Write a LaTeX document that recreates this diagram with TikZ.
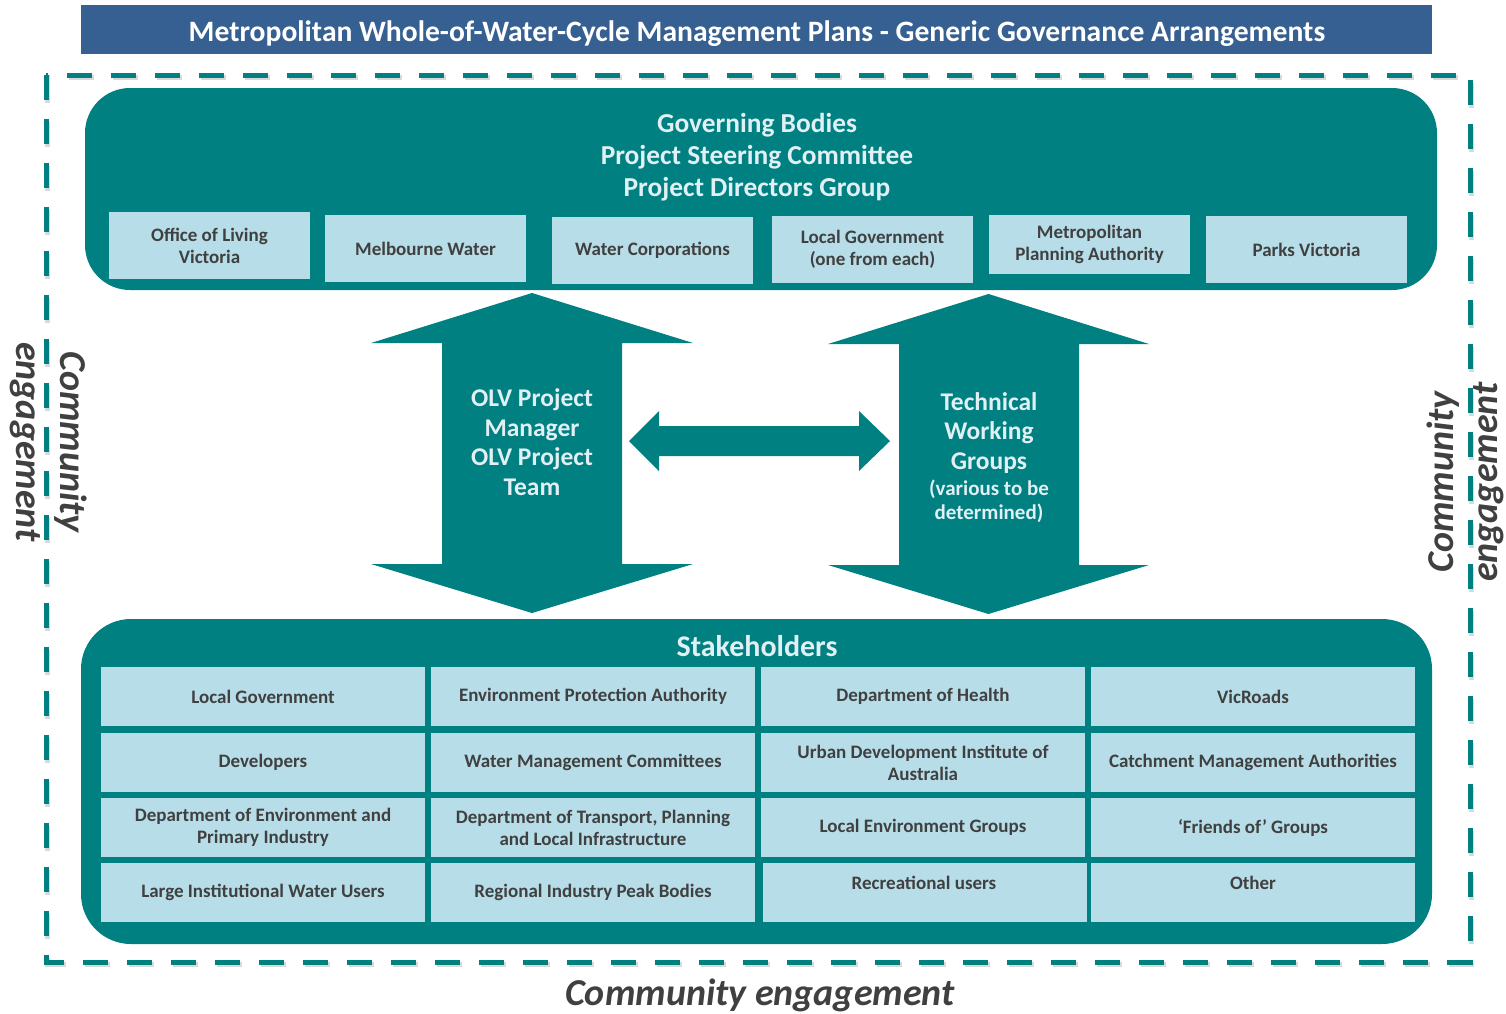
\documentclass[tikz,border=0pt]{standalone}
\usepackage{fontspec}
\setmainfont{Carlito}
\definecolor{teal0}{RGB}{0,128,128}
\definecolor{lightb}{RGB}{183,221,232}
\definecolor{titleb}{RGB}{55,96,146}
\definecolor{dgray}{RGB}{64,64,64}
\definecolor{ltext}{RGB}{224,240,245}
\newcommand\myfs[2]{\fontsize{#1}{#2}\selectfont}
\tikzset{
  lbox/.style={fill=lightb, inner sep=2pt, align=center, text=dgray, font=\bfseries\myfs{19}{22}},
  gbox/.style={lbox, minimum width=201, minimum height=67},
  sbox/.style={lbox, minimum width=324, minimum height=59},
  stext/.style={text=dgray, font=\bfseries\myfs{19}{22}, align=center, inner sep=0pt},
  bigbox/.style={fill=teal0, rounded corners=45, inner sep=0pt},
  ltitle/.style={text=ltext, font=\bfseries\myfs{27.4}{32}, align=center, inner sep=0pt},
  ce/.style={text=dgray, font=\bfseries\itshape\myfs{38}{44}, align=center, inner sep=0pt},
  dashb/.style={line width=5, dash pattern=on 25 off 19}
}
\begin{document}
\begin{tikzpicture}[x=1pt,y=-1pt]
\useasboundingbox (0,0) rectangle (1506,1013);
% title
\node[fill=titleb, minimum width=1351, minimum height=49, inner sep=0pt] (title) at (756.5,29.5) {};
\node[text=white, font=\bfseries\myfs{29.6}{32}, inner sep=0pt] (titlet) at (757,33.5) {Metropolitan Whole-of-Water-Cycle Management Plans - Generic Governance Arrangements};
% dashed border with shadow
\draw[dashb, black!25, opacity=0.6] (47.5,77.5) rectangle (1471.5,964.5);
\draw[dashb, teal0] (46,75) rectangle (1470,962);
% governing bodies box
\node[bigbox, minimum width=1352, minimum height=202] (gov) at (761,189) {};
\node[ltitle] (govt) at (757,157) {Governing Bodies\\Project Steering Committee\\Project Directors Group};
\node[gbox] (g1) at (209.5,245.5) {Office of Living\\Victoria};
\node[gbox] (g2) at (425.5,248.5) {Melbourne Water};
\node[gbox] (g3) at (652.5,250) {Water Corporations};
\node[gbox] (g4) at (872.5,249) {Local Government\\(one from each)};
\node[gbox, minimum height=59] (g5) at (1089.5,244.5) {Metropolitan\\Planning Authority};
\node[gbox] (g6) at (1306.5,249.5) {Parks Victoria};
% stakeholders box
\node[bigbox, minimum width=1351, minimum height=325, rounded corners=50] (stk) at (756.5,781.5) {};
\node[ltitle, font=\bfseries\myfs{30}{32}] (stkt) at (757,646) {Stakeholders};
\node[sbox] (s11) at (263,696.5) {Local Government};
\node[sbox] (s12) at (593,696.5) {Environment Protection Authority};
\node[sbox] (s13) at (923,696.5) {Department of Health};
\node[sbox] (s14) at (1253,696.5) {VicRoads};
\node[sbox] (s21) at (263,762.5) {Developers};
\node[sbox] (s22) at (593,762.5) {Water Management Committees};
\node[sbox] (s23) at (923,762.5) {Urban Development Institute of\\Australia};
\node[sbox] (s24) at (1253,762.5) {Catchment Management Authorities};
\node[sbox] (s31) at (263,827.5) {Department of Environment and\\Primary Industry};
\node[sbox] (s32) at (593,827.5) {Department of Transport, Planning\\and Local Infrastructure};
\node[sbox] (s33) at (923,827.5) {Local Environment Groups};
\node[sbox] (s34) at (1253,827.5) {‘Friends of’ Groups};
\node[sbox] (s41) at (263,892.5) {Large Institutional Water Users};
\node[sbox] (s42) at (593,892.5) {Regional Industry Peak Bodies};
\node[sbox] (s43) at (924.5,892) {};
\node[stext] (s43t) at (924,883) {Recreational users};
\node[sbox] (s44) at (1253,892) {};
\node[stext] (s44t) at (1253,883) {Other};
% left vertical double arrow
\fill[teal0] (532,293) -- (693,343) -- (622,343) -- (622,564) -- (693,564) -- (532,613)
  -- (371,564) -- (442,564) -- (442,343) -- (371,343) -- cycle;
\node[ltitle, font=\bfseries\myfs{25.5}{29.5}] (olv) at (532,442) {OLV Project\\Manager\\OLV Project\\Team};
% right vertical double arrow
\fill[teal0] (988.5,294) -- (1149,344) -- (1079,344) -- (1079,565) -- (1149,565) -- (988.5,614)
  -- (828,565) -- (899,565) -- (899,344) -- (828,344) -- cycle;
\node[ltitle, font=\bfseries\myfs{25.5}{29.5}] (twg) at (989,433) {Technical\\Working\\Groups};
\node[ltitle, font=\bfseries\myfs{21}{24}] (twg2) at (989,501) {(various to be\\determined)};
% horizontal double arrow
\fill[teal0] (629,441) -- (659,411) -- (659,426) -- (859,426) -- (859,411) -- (890,441)
  -- (859,471) -- (859,456) -- (659,456) -- (659,471) -- cycle;
% community engagement labels
\node[ce, rotate=-90] (cel) at (49,442) {Community\\engagement};
\node[ce, rotate=90] (cer) at (1465,482) {Community\\engagement};
\node[ce] (ceb) at (760,995) {Community engagement};
\end{tikzpicture}
\end{document}
